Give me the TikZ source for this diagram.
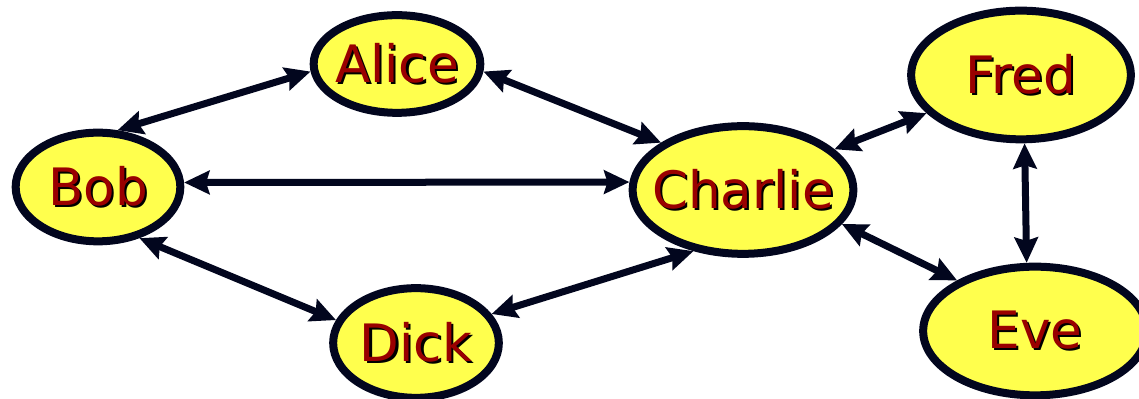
\documentclass[tikz,border=0pt]{standalone}
\usepackage{fontspec}
\setmainfont{DejaVu Sans}
\usepackage{tikz}
\usetikzlibrary{shapes.geometric, arrows.meta}

\definecolor{nodefill}{RGB}{255,255,77}
\definecolor{nodeline}{RGB}{2,6,30}
\definecolor{namered}{RGB}{153,0,0}
\newcommand{\shadowname}[1]{\makebox[0pt]{\rlap{\kern1.8pt\raisebox{-1.8pt}{\color{black}#1}}#1}}

\begin{document}
\begin{tikzpicture} [x=0.03cm, y=0.03cm,
   person/.style={ellipse, draw=nodeline, fill=nodefill, line width=0.24cm, inner sep=0pt,
      text=namered, font=\fontsize{44}{48}\selectfont},
   link/.style={{Stealth[length=0.76cm, width=0.7cm, inset=0.1cm]}-{Stealth[length=0.76cm, width=0.7cm, inset=0.1cm]},
      line width=0.21cm, draw=nodeline}]
   \useasboundingbox (0,0) rectangle (1139,399);

   \node (alice)[person, minimum width=5.0cm, minimum height=2.93cm] at (397,335) {\shadowname{Alice}};
   \node (bob)[person, minimum width=4.94cm, minimum height=3.26cm] at (98,212) {\shadowname{Bob}};
   \node (charlie)[person, minimum width=6.62cm, minimum height=3.83cm] at (743,209) {\shadowname{Charlie}};
   \node (fred)[person, minimum width=6.59cm, minimum height=3.86cm] at (1021,324) {\shadowname{Fred}};
   \node (dick)[person, minimum width=4.97cm, minimum height=3.29cm] at (416,56) {\shadowname{Dick}};
   \node (eve)[person, minimum width=6.71cm, minimum height=3.86cm] at (1035,68) {\shadowname{Eve}};

   \draw[link](bob.71) -- (alice.185);
   \draw[link](alice.-5) -- (charlie.150);
   \draw[link](bob.3) -- (charlie.176);
   \draw[link](bob.-51) -- (dick.164);
   \draw[link](dick.21) -- (charlie.231);
   \draw[link](charlie.24) -- (fred.202);
   \draw[link](charlie.-19) -- (eve.147);
   \draw[link](fred.-87) -- (eve.97);
\end{tikzpicture}
\end{document}
